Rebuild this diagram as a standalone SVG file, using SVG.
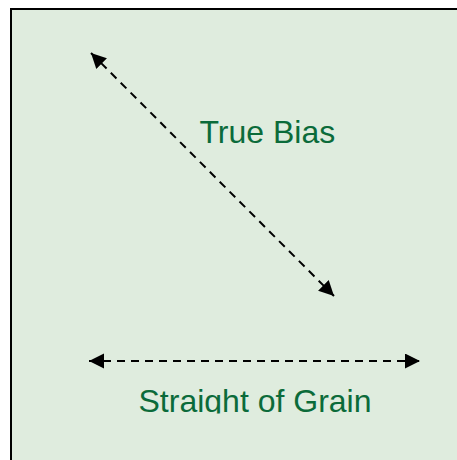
<svg xmlns="http://www.w3.org/2000/svg" width="457" height="460" viewBox="0 0 457 460">
  <style>
    .lbl { font-family: "Liberation Sans", Arial, sans-serif; font-size: 32px; fill: #0b6b3a; }
    .conn { stroke: #000; stroke-width: 2; stroke-dasharray: 8 6; fill: none; }
  </style>
  <defs>
    <marker id="ah" markerUnits="userSpaceOnUse" markerWidth="16" markerHeight="16" refX="15" refY="7.5" orient="auto-start-reverse" viewBox="0 0 16 16">
      <path d="M0,0 L15,7.5 L0,15 Z" fill="#000"/>
    </marker>
    <clipPath id="clipText">
      <rect x="0" y="0" width="457" height="413.5"/>
    </clipPath>
  </defs>
  <rect id="panel" x="11" y="9" width="460" height="470" fill="#dfecde" stroke="#000" stroke-width="2"/>
  <g id="connectors">
    <line class="conn" x1="91" y1="53" x2="334" y2="296" marker-start="url(#ah)" marker-end="url(#ah)"/>
    <line class="conn" x1="89" y1="361" x2="420" y2="361" marker-start="url(#ah)" marker-end="url(#ah)"/>
  </g>
  <g id="true-bias">
    <text class="lbl" x="199.5" y="143">True Bias</text>
  </g>
  <g id="straight-of-grain" clip-path="url(#clipText)">
    <text class="lbl" x="138.5" y="412">Straight of Grain</text>
  </g>
</svg>
